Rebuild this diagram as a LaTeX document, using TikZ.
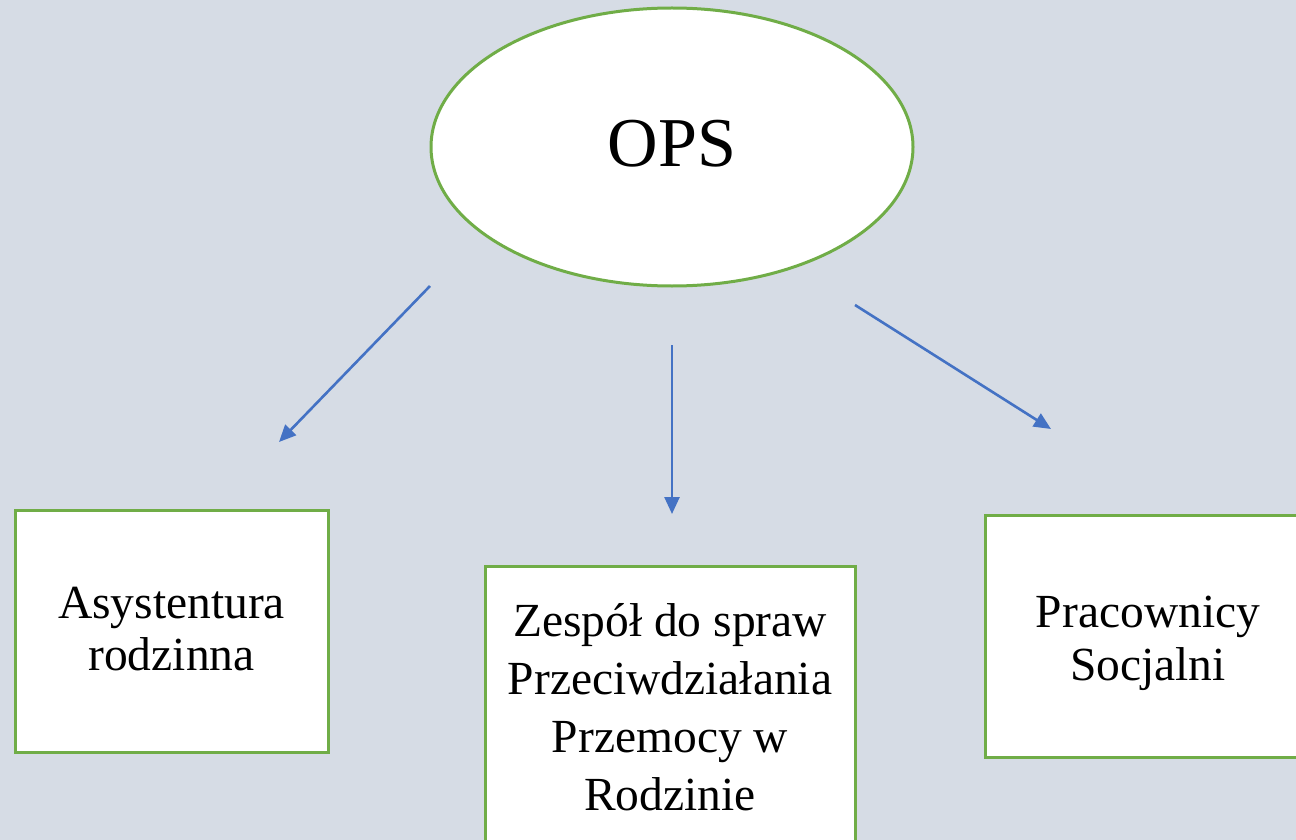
\documentclass[tikz,border=0pt]{standalone}
\usepackage{fontspec}
\setmainfont{Liberation Serif}
\usetikzlibrary{shapes.geometric,arrows.meta}
\definecolor{bgc}{HTML}{D6DCE5}
\definecolor{grn}{HTML}{70AD47}
\definecolor{blu}{HTML}{4472C4}
\tikzset{
  box/.style={draw=grn, line width=3pt, fill=white, inner sep=0pt},
  lbl/.style={inner sep=0pt, align=center, text=black},
  conn/.style={draw=blu, line width=2.6pt, -{Triangle[length=17pt,width=15pt]}},
}
\begin{document}
\begin{tikzpicture}[x=1pt,y=-1pt]
\useasboundingbox (0,0) rectangle (1296,840);
\clip (0,0) rectangle (1296,840);
\fill[bgc] (0,0) rectangle (1296,840);
% ellipse
\node[ellipse, draw=grn, line width=3pt, fill=white, minimum width=482pt, minimum height=278pt, inner sep=0pt] (ops) at (672,147) {};
\node[lbl, font=\fontsize{70}{80}\selectfont, anchor=base] (opst) at (672,167) {OPS};
% boxes
\node[box, minimum width=313pt, minimum height=242pt] (asy) at (171.5,631) {};
\node[box, minimum width=370pt, minimum height=284pt] (zes) at (670,708) {};
\node[box, minimum width=326pt, minimum height=242pt] (pra) at (1148,636) {};
% labels
\node[lbl, font=\fontsize{47.5}{52}\selectfont] (asyt) at (171.5,629) {Asystentura\\rodzinna};
\node[lbl, font=\fontsize{47.5}{58}\selectfont] (zest) at (670,707.5) {Zespół do spraw\\Przeciwdziałania\\Przemocy w\\Rodzinie};
\node[lbl, font=\fontsize{47.5}{53}\selectfont] (prat) at (1148,643) {Pracownicy\\Socjalni};
% connectors
\coordinate (s1) at (430,286); \coordinate (e1) at (279,442);
\coordinate (s2) at (672,345); \coordinate (e2) at (672,514);
\coordinate (s3) at (855,305); \coordinate (e3) at (1051,429);
\draw[conn] (s1) -- (e1);
\draw[conn] (s2) -- (e2);
\draw[conn] (s3) -- (e3);
\end{tikzpicture}
\end{document}
